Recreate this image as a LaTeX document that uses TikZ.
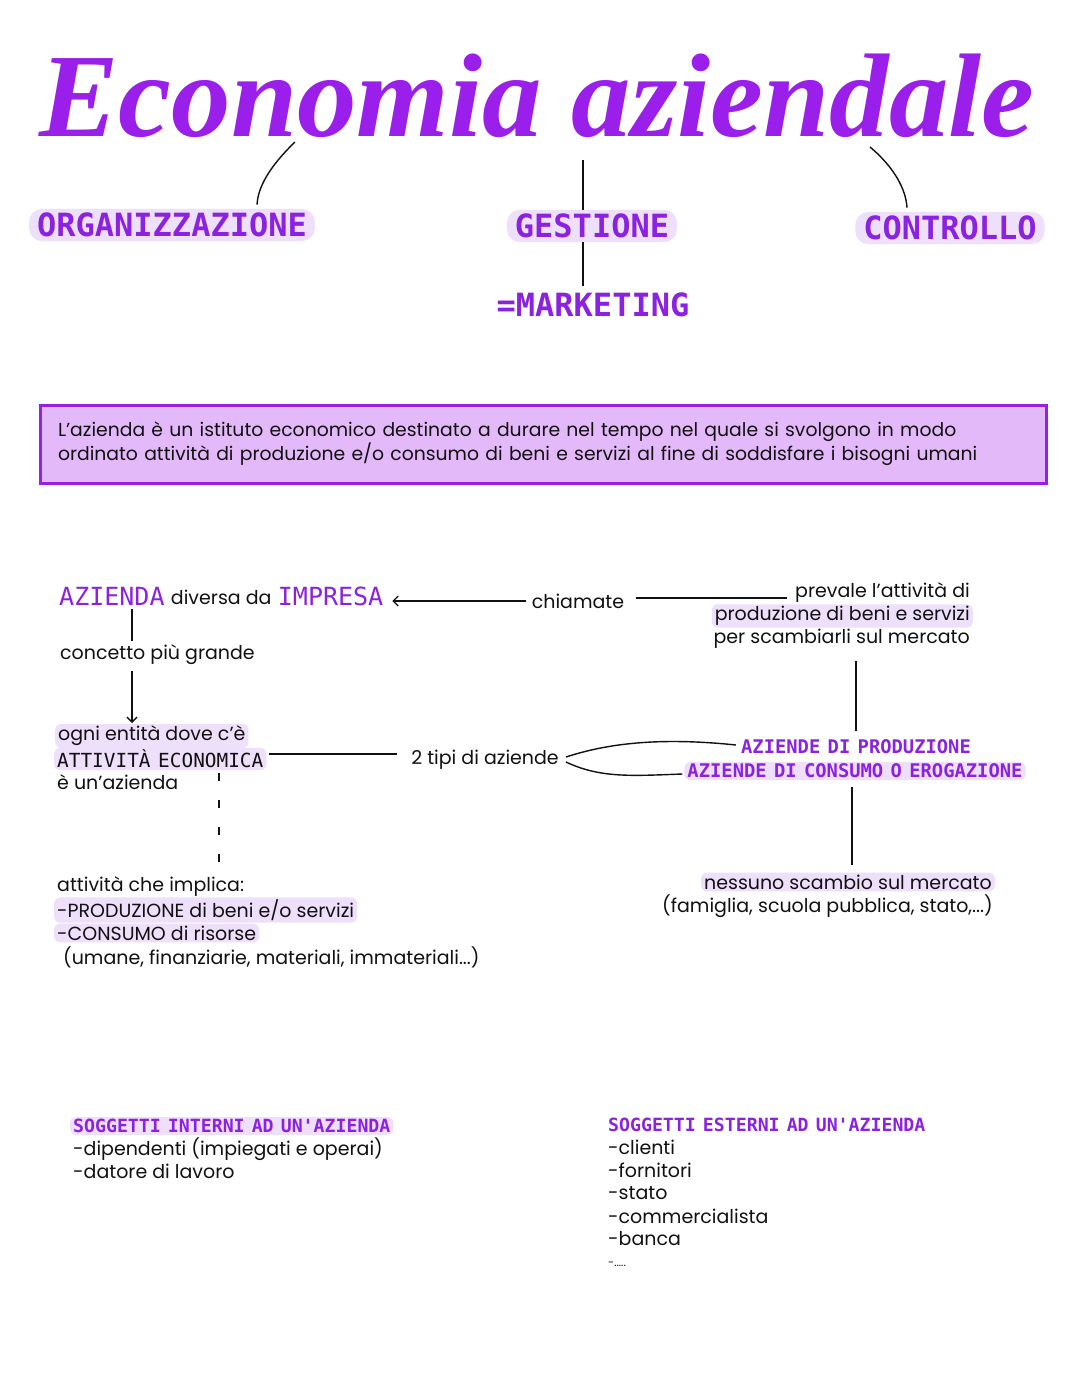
\documentclass[tikz,border=0pt]{standalone}
\usepackage{fontspec}
\setmainfont{Poppins}
\newfontfamily\monofont[WordSpace=0.65]{DejaVu Sans Mono}
\newfontfamily\titlefont{Liberation Serif}
\usetikzlibrary{arrows.meta,calc}
\definecolor{tpurple}{HTML}{9B1FEA}
\definecolor{lpurple}{HTML}{8A22E0}
\definecolor{hl}{HTML}{EEDFFB}
\definecolor{boxfill}{HTML}{E4B9FA}
\definecolor{boxdraw}{HTML}{9A1FE0}
\definecolor{ink}{HTML}{111111}
\begin{document}
\begin{tikzpicture}[x=1pt,y=-1pt,
  body/.style={text=ink, font=\fontsize{19}{23}\selectfont, inner xsep=0pt, inner ysep=2pt},
  hlbody/.style={body, fill=hl, rounded corners=6pt, inner xsep=3pt},
  pill/.style={fill=hl, rounded corners=13pt, inner xsep=8pt, inner ysep=4pt, text=lpurple,
     font=\monofont\bfseries\fontsize{32}{32}\selectfont},
  bigcap/.style={text=lpurple, font=\monofont\bfseries\fontsize{32}{32}\selectfont},
  midcap/.style={text=lpurple, font=\monofont\bfseries\fontsize{18.8}{22}\selectfont, inner xsep=3pt, inner ysep=2pt},
  conn/.style={draw=ink, line width=1.4pt},
  thin/.style={draw=ink, line width=1.1pt}
]
\useasboundingbox (0,0) rectangle (1080,1394);
\fill[white] (0,0) rectangle (1080,1394);

% title
\node[anchor=base, text=tpurple, font=\titlefont\bfseries\itshape\fontsize{119}{119}\selectfont, inner sep=0pt]
  (title) at (537,136) {Economia aziendale};
\coordinate (t1) at (295,142);
\coordinate (t2) at (583,160);
\coordinate (t3) at (870,147);

\node[pill] (org) at (172,225) {ORGANIZZAZIONE};
\node[pill] (ges) at (592,226) {GESTIONE};
\node[pill] (ctrl) at (950,228) {CONTROLLO};
\node[bigcap] (mkt) at (593,305) {=MARKETING};

\draw[conn] (t1) .. controls (268,168) and (258,188) .. ($(org.north)+(85,-4)$);
\draw[conn] (t2) -- (t2 |- ges.north);
\draw[conn] (t2 |- ges.south) -- ($(t2 |- mkt.north)+(0,-3)$);
\draw[conn] (t3) .. controls (895,168) and (906,190) .. ($(ctrl.north)+(-43,-4)$);

% definition box
\node[draw=boxdraw, line width=3pt, fill=boxfill, minimum width=1006pt, minimum height=78pt,
  text width=970pt, align=left, text=ink, font=\fontsize{18.8}{24}\selectfont] (def) at (543,444)
  {L'azienda è un istituto economico destinato a durare nel tempo nel quale si svolgono in modo\\
   ordinato attività di produzione e/o consumo di beni e servizi al fine di soddisfare i bisogni umani};

% azienda line
\node[anchor=west, text=lpurple, font=\monofont\fontsize{25}{25}\selectfont, inner xsep=0pt] (az1) at (59,596) {AZIENDA};
\node[anchor=west, body] (az2) at ($(az1.east)+(6,1)$) {diversa da};
\node[anchor=west, text=lpurple, font=\monofont\fontsize{25}{25}\selectfont, inner xsep=0pt] (az3) at ($(az2.east)+(6,-1)$) {IMPRESA};

\node[body] (chi) at (578,601) {chiamate};
\node[body, anchor=east] (prev1) at (970,593) {prevale l'attività di};
\node[hlbody, anchor=east] (prev2) at (973,616) {produzione di beni e servizi};
\node[body, anchor=east] (prev3) at (970,639) {per scambiarli sul mercato};

\draw[thin, -{Straight Barb[length=5pt,width=10pt]}] ($(chi.west)+(-6,0)$) -- ($(az3.east)+(9,5)$);
\draw[thin] ($(chi.east)+(12,-3)$) -- ($(prev1.west)+(-8,5)$);

\node[midcap] (prod) at (856,747) {AZIENDE DI PRODUZIONE};
\node[midcap, fill=hl, rounded corners=6pt] (cons) at (855,771) {AZIENDE DI CONSUMO O EROGAZIONE};
\draw[conn] ($(prod.north |- prev3.south)+(0,10)$) -- ($(prod.north)+(0,-7)$);
\draw[conn] ($(cons.south)+(-3,7)$) -- ($(cons.south)+(-3,85)$);

\node[hlbody, anchor=east] (nes) at (995,882) {nessuno scambio sul mercato};
\node[body, anchor=east] (fam) at (993,906) {(famiglia, scuola pubblica, stato,...)};

% left column
\node[body, anchor=west] (con) at (60,655) {concetto più grande};
\coordinate (vx) at (132,0);
\draw[conn] (vx |- az1.south) -- ($(vx |- con.north)+(0,-2)$);
\draw[conn, -{Straight Barb[length=5pt,width=10pt]}] ($(vx |- con.south)+(0,4)$) -- (132,723);

\node[hlbody, anchor=west] (og1) at (55,736) {ogni entità dove c'è};
\node[anchor=west, fill=hl, rounded corners=6pt, inner xsep=3pt, inner ysep=2pt, text=ink,
  font=\monofont\fontsize{19.4}{22}\selectfont] (att) at (54,759) {ATTIVITÀ ECONOMICA};
\node[body, anchor=west] (og3) at (57,782) {è un'azienda};

\node[body] (tipi) at (485,760) {2 tipi di aziende};
\draw[conn] ($(att.east)+(2,-5)$) -- ($(tipi.west)+(-14,-6)$);
\draw[conn] ($(tipi.east)+(7,-3)$) .. controls (600,746) and (650,736) .. ($(prod.west)+(-2,-2)$);
\draw[conn] ($(tipi.east)+(7,2)$) .. controls (600,778) and (630,776) .. ($(cons.west)+(-2,3)$);

\coordinate (vd) at (219,0);
\draw[conn, dash pattern=on 8pt off 19pt] ($(vd |- att.south)+(0,3)$) -- (219,870);

\node[body, anchor=west] (imp1) at (57,887) {attività che implica:};
\node[hlbody, anchor=west] (imp2) at (54,910) {-PRODUZIONE di beni e/o servizi};
\node[hlbody, anchor=west] (imp3) at (54,933) {-CONSUMO di risorse};
\node[body, anchor=west] (imp4) at (63,957) {(umane, finanziarie, materiali, immateriali...)};

% bottom lists
\node[midcap, anchor=west, fill=hl, rounded corners=6pt, font=\monofont\bfseries\fontsize{18.2}{21}\selectfont] (int0) at (70,1126) {SOGGETTI INTERNI AD UN'AZIENDA};
\node[body, anchor=west] (int1) at (73,1149) {-dipendenti (impiegati e operai)};
\node[body, anchor=west] (int2) at (73,1171) {-datore di lavoro};

\node[midcap, anchor=west, inner xsep=0pt, font=\monofont\bfseries\fontsize{18.2}{21}\selectfont] (ext0) at (608,1125) {SOGGETTI ESTERNI AD UN'AZIENDA};
\node[body, anchor=west] (ext1) at (608,1147) {-clienti};
\node[body, anchor=west] (ext2) at (608,1170) {-fornitori};
\node[body, anchor=west] (ext3) at (608,1193) {-stato};
\node[body, anchor=west] (ext4) at (608,1216) {-commercialista};
\node[body, anchor=west] (ext5) at (608,1239) {-banca};
\node[body, anchor=west, font=\fontsize{11}{12}\selectfont] (ext6) at (608,1264) {-.....};
\end{tikzpicture}
\end{document}
